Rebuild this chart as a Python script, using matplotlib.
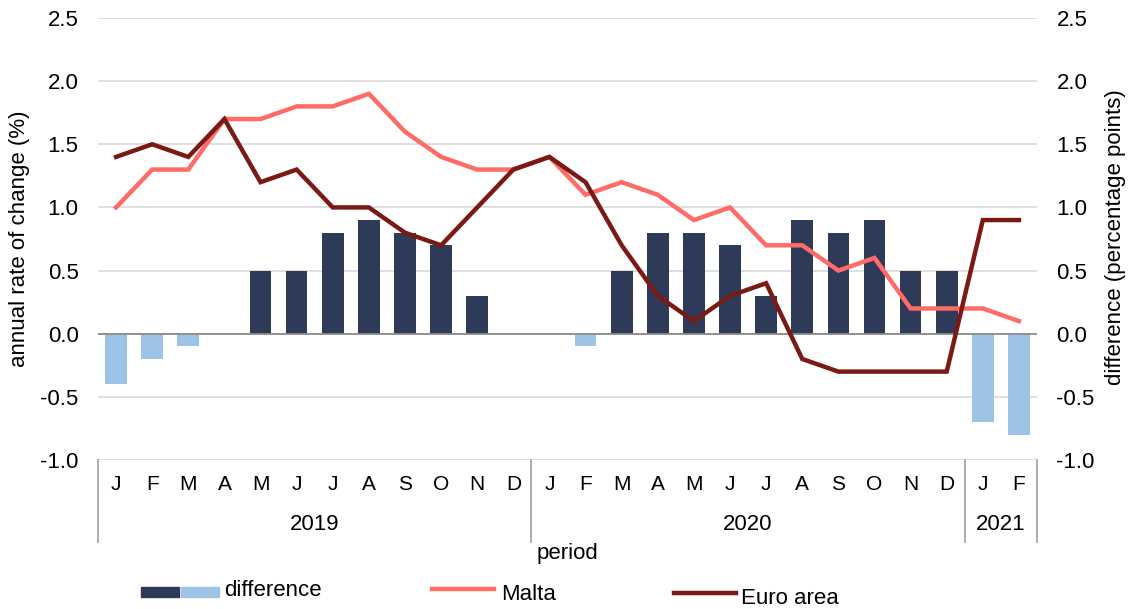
import matplotlib
matplotlib.use("Agg")
import matplotlib.pyplot as plt
from matplotlib.patches import Rectangle
from matplotlib.lines import Line2D
import numpy as np

plt.rcParams["font.family"] = ["Liberation Sans", "DejaVu Sans"]

months = ["J", "F", "M", "A", "M", "J", "J", "A", "S", "O", "N", "D",
          "J", "F", "M", "A", "M", "J", "J", "A", "S", "O", "N", "D",
          "J", "F"]
years = ["2019", "2020", "2021"]
year_counts = [12, 12, 2]

malta = [1.0, 1.3, 1.3, 1.7, 1.7, 1.8, 1.8, 1.9, 1.6, 1.4, 1.3, 1.3,
         1.4, 1.1, 1.2, 1.1, 0.9, 1.0, 0.7, 0.7, 0.5, 0.6, 0.2, 0.2,
         0.2, 0.1]
euro_area = [1.4, 1.5, 1.4, 1.7, 1.2, 1.3, 1.0, 1.0, 0.8, 0.7, 1.0, 1.3,
             1.4, 1.2, 0.7, 0.3, 0.1, 0.3, 0.4, -0.2, -0.3, -0.3, -0.3, -0.3,
             0.9, 0.9]
difference = [-0.4, -0.2, -0.1, 0.0, 0.5, 0.5, 0.8, 0.9, 0.8, 0.7, 0.3, 0.0,
              0.0, -0.1, 0.5, 0.8, 0.8, 0.7, 0.3, 0.9, 0.8, 0.9, 0.5, 0.5,
              -0.7, -0.8]

c_pos, c_neg = "#2e3b58", "#9dc3e6"
c_malta, c_euro = "#ff6b66", "#7b1a14"
grid_c = "#d9d9d9"
FS = 16

fig = plt.figure(figsize=(11.32, 6.09), dpi=100)
ax = fig.add_axes([98 / 1132, 1 - 460 / 609, (1037 - 98) / 1132, (460 - 18) / 609])

x = np.arange(len(months))
diff = np.array(difference)
ax.bar(x, diff, width=0.6, color=[c_pos if d >= 0 else c_neg for d in diff], zorder=2)
ax.axhline(0, color="#8c8c8c", lw=1.3, zorder=2.5)
ax.plot(x, malta, color=c_malta, lw=3.2, zorder=3, solid_joinstyle="miter")
ax.plot(x, euro_area, color=c_euro, lw=3.2, zorder=4, solid_joinstyle="miter")

ax.set_xlim(-0.5, len(months) - 0.5)
ax.set_ylim(-1.0, 2.5)
yt = np.arange(-1.0, 2.51, 0.5)
ax.set_yticks(yt)
ax.set_yticklabels([f"{v:.1f}" for v in yt])
ax.yaxis.grid(True, color=grid_c, lw=1.2, zorder=0)
ax.set_axisbelow(True)
for s in ax.spines.values():
    s.set_visible(False)
ax.tick_params(axis="y", length=0, pad=14, labelsize=FS)
ax.set_xticks(x)
ax.set_xticklabels(months)
ax.tick_params(axis="x", length=0, pad=11, labelsize=15)
ax.set_ylabel("annual rate of change (%)", fontsize=FS)
ax.yaxis.set_label_coords(-68 / 939, 0.5)

ax2 = ax.twinx()
ax2.set_ylim(ax.get_ylim())
ax2.set_yticks(yt)
ax2.set_yticklabels([f"{v:.1f}" for v in yt])
for s in ax2.spines.values():
    s.set_visible(False)
ax2.tick_params(axis="y", length=0, pad=14, labelsize=FS)
ax2.set_ylabel("difference (percentage points)", fontsize=FS)
ax2.yaxis.set_label_coords(1 + 68 / 939, 0.505)

# category hierarchy: year dividers and labels
trans = ax.get_xaxis_transform()
bounds = np.concatenate([[0], np.cumsum(year_counts)]) - 0.5
for b in bounds:
    ax.add_line(Line2D([b, b], [0, -82 / 442], transform=trans, color="#a6a6a6",
                       lw=1.3, clip_on=False))
for i, yr in enumerate(years):
    ax.text((bounds[i] + bounds[i + 1]) / 2, -64 / 442, yr, transform=trans,
            ha="center", va="center", fontsize=FS)
ax.text(0.5, -93 / 442, "period", transform=ax.transAxes, ha="center", va="center",
        fontsize=FS)

# legend
def fx(px):
    return px / 1132

def fy(py):
    return 1 - py / 609

fig.add_artist(Rectangle((fx(141), fy(597)), fx(38), 10 / 609, color=c_pos))
fig.add_artist(Rectangle((fx(181), fy(597)), fx(38), 10 / 609, color=c_neg))
fig.text(fx(224), fy(591), "difference", fontsize=FS, va="center")
fig.add_artist(Line2D([fx(432), fx(494)], [fy(589), fy(589)], color=c_malta, lw=3.2))
fig.text(fx(501), fy(595), "Malta", fontsize=FS, va="center")
fig.add_artist(Line2D([fx(674), fx(736)], [fy(593), fy(593)], color=c_euro, lw=3.2))
fig.text(fx(741), fy(598), "Euro area", fontsize=FS, va="center")

fig.savefig("out.png", dpi=100)
